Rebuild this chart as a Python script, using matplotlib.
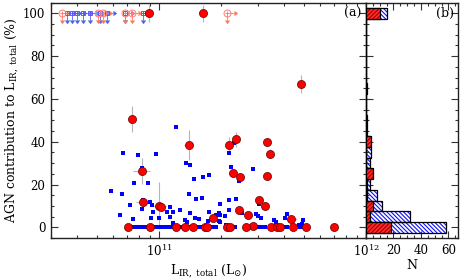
import numpy as np
import matplotlib
matplotlib.use("Agg")
import matplotlib.pyplot as plt
from matplotlib.ticker import LogLocator, FixedLocator, MultipleLocator, NullFormatter

plt.rcParams['font.family'] = ['DejaVu Serif']
plt.rcParams['mathtext.fontset'] = 'dejavuserif'
plt.rcParams['hatch.linewidth'] = 0.8

# ---------------- data (L_IR in units of 1e11 Lsun) ----------------
red_L = [0.894, 1.636, 0.740, 4.84, 1.388, 2.187, 2.365, 3.333, 3.42, 0.824,
         2.279, 2.454, 3.333, 0.839, 1.003, 1.023, 3.034, 3.244, 1.814, 2.419,
         2.696, 4.325, 2.838,
         0.705, 0.904, 1.205, 1.330, 1.451, 1.672, 1.700, 2.131, 2.211, 2.615,
         3.458, 3.719, 3.837, 4.446, 5.114, 6.97]
red_agn = [100, 100, 50.7, 67.0, 38.4, 38.3, 41.1, 39.8, 34.4, 26.3,
           25.3, 23.3, 24.0, 11.6, 10.0, 9.3, 12.8, 10.0, 4.3, 7.9,
           5.7, 3.7, 0.7,
           0, 0, 0, 0, 0, 0, 0, 0, 0, 0,
           0, 0, 0, 0, 0, 0]
red_yerr = [4, 4, 6, 4, 7, 4, 3.5, 2, 2, 6,
            2, 2, 2, 2, 11, 1.5, 2, 2, 1.5, 1.5,
            1.5, 1.5, 1.5,
            0.5, 0.5, 0.5, 0.5, 0.5, 0.5, 0.5, 0.5, 0.5, 0.5,
            0.5, 0.5, 0.5, 0.5, 0.5, 0.5]
red_xerr_dex = [0.01, 0.01, 0.01, 0.01, 0.02, 0.01, 0.01, 0.01, 0.01, 0.04,
                0.01, 0.01, 0.01, 0.035, 0.03, 0.01, 0.01, 0.01, 0.02, 0.01,
                0.01, 0.03, 0.01,
                0.01, 0.01, 0.01, 0.01, 0.01, 0.01, 0.01, 0.01, 0.01, 0.01,
                0.01, 0.01, 0.01, 0.01, 0.01, 0.01]

blue_L = [0.666, 0.793, 0.970, 0.583, 0.663, 0.759, 0.880, 0.647, 0.723, 0.750,
          0.824, 0.839, 0.904, 0.932, 0.915, 0.994, 0.922, 0.830, 1.097, 1.131,
          1.131, 1.173, 1.264, 1.166, 1.327, 1.363, 1.414, 1.484, 1.551, 1.749,
          1.716, 1.941, 1.956, 1.398, 1.507, 1.612, 1.467, 1.623, 1.749, 1.352,
          1.414, 1.978, 2.187, 2.312, 2.229, 2.850, 2.427, 2.170, 2.365, 2.187,
          1.891, 1.978, 2.091, 1.978, 2.520, 2.924, 3.014, 3.093, 3.034, 3.588,
          3.686, 4.045, 4.169, 4.962, 4.929, 4.745, 2.115, 1.209,
          0.740, 0.765, 0.791, 0.818, 0.846, 0.875, 0.925, 0.956, 0.989, 1.034,
          1.069, 1.106, 1.144, 1.264, 1.352, 1.398, 1.512, 1.564, 1.636, 1.768,
          1.828, 1.891, 2.338, 3.024, 3.127, 3.234, 3.536, 3.999, 4.136, 4.782,
          4.946]
blue_agn = [34.9, 33.6, 34.1, 17.0, 15.8, 20.6, 20.5, 5.8, 10.6, 3.9,
            8.5, 12.8, 11.9, 7.1, 4.2, 4.2, 10.4, 27.7, 7.3, 9.3,
            4.7, 7.3, 8.0, 2.0, 3.5, 2.6, 6.7, 4.3, 3.9, 7.0,
            3.1, 6.7, 2.8, 15.8, 13.2, 13.5, 22.8, 23.7, 24.5, 29.9,
            29.3, 10.8, 34.6, 39.5, 28.2, 27.1, 21.7, 12.7, 13.2, 8.0,
            5.7, 5.7, 5.1, 2.6, 6.7, 6.2, 5.4, 4.5, 10.7, 3.3,
            2.3, 4.2, 6.2, 3.4, 1.4, 1.1, 1.1, 46.8,
            0, 0, 0, 0, 0, 0, 0, 0, 0, 0,
            0, 0, 0, 0, 0, 0, 0, 0, 0, 0,
            0, 0, 0, 0, 0, 0, 0, 0, 0, 0,
            0]

pink_lim_L = [0.338, 0.506, 0.535, 0.684, 0.739, 2.139]
blue_lim_L = [0.357, 0.378, 0.400, 0.428, 0.462, 0.517, 0.559, 0.684, 0.836]
lim_agn = 100

hist_bins = [0, 5, 10, 15, 20, 25, 30, 35, 40, 45, 50, 55, 60, 65, 70, 75, 80, 85, 90, 95, 100]
hist_all = [58, 32, 12, 8, 3, 4, 3, 4, 3, 1, 0, 0, 0, 0, 0, 0, 0, 0, 0, 0, 15]
hist_red = [18, 3, 5, 1, 1, 5, 0, 0, 4, 0, 1, 0, 0, 1, 0, 0, 0, 0, 0, 0, 10]

# ---------------- figure ----------------
fig = plt.figure(figsize=(4.63, 2.78), dpi=100)
axa = fig.add_axes([51/463, 1-238/278, (366-51)/463, (238-2.7)/278])
axb = fig.add_axes([366/463, 1-238/278, (458-366)/463, (238-2.7)/278])

scale = 1e11
rL = np.array(red_L) * scale
bL = np.array(blue_L) * scale
rdex = np.array(red_xerr_dex)
xerr = [rL - rL * 10**(-rdex), rL * 10**rdex - rL]

axa.errorbar(rL, red_agn, yerr=red_yerr, xerr=xerr, fmt='none',
             ecolor='#b5b5b5', elinewidth=0.8, capsize=0, zorder=1)
axa.scatter(bL, blue_agn, marker='s', s=9, color='#0000ff', linewidths=0, zorder=2)
axa.scatter(rL, red_agn, marker='o', s=34, facecolor='#ff0000',
            edgecolor='#600000', linewidths=0.5, zorder=3)

pL = np.array(pink_lim_L) * scale
blL = np.array(blue_lim_L) * scale
for arr, col, mk, ms in [(blL, '#5a5aff', 's', 3.5), (pL, '#ff7a7a', 'o', 5)]:
    axa.errorbar(arr, [lim_agn]*len(arr), yerr=3, xerr=arr*(10**0.03 - 1),
                 uplims=True, xlolims=True, fmt=mk, mfc='none', mec=col,
                 ms=ms, mew=0.7, ecolor=col, elinewidth=0.6, capsize=1.2, zorder=2)

axa.set_xscale('log')
axa.set_xlim(3e10, 1e12)
axa.set_ylim(-5, 105)
axa.xaxis.set_major_locator(FixedLocator([1e11, 1e12]))
axa.set_xticklabels(['$10^{11}$', '$10^{12}$'])
axa.xaxis.set_minor_locator(LogLocator(base=10, subs=np.arange(2, 10)))
axa.xaxis.set_minor_formatter(NullFormatter())
axa.yaxis.set_major_locator(MultipleLocator(20))
axa.yaxis.set_minor_locator(MultipleLocator(5))
axa.set_xlabel(r'L$_{\rm IR,\ total}$ (L$_{\odot}$)', fontsize=9, labelpad=2)
axa.set_ylabel(r'AGN contribution to L$_{\rm IR,\ total}$ (%)', fontsize=9, labelpad=2)
axa.text(0.985, 0.955, '(a)', transform=axa.transAxes, ha='right', va='center', fontsize=9)

# histogram
axb.barh(hist_bins, hist_all, height=5, color='white', edgecolor='#1010ff',
         hatch='\\\\\\\\\\\\\\\\', linewidth=0.5, zorder=1)
axb.barh(hist_bins, hist_all, height=5, color='none', edgecolor='black',
         linewidth=0.9, zorder=2)
axb.barh(hist_bins, hist_red, height=5, color='#ff2a2a', edgecolor='#a00000',
         hatch='////////', linewidth=0.5, zorder=3)
axb.barh(hist_bins, hist_red, height=5, color='none', edgecolor='black',
         linewidth=0.9, zorder=4)
axb.set_xlim(0, 67)
axb.set_ylim(-5, 105)
axb.xaxis.set_major_locator(FixedLocator([0, 20, 40, 60]))
axb.set_xticklabels(['', '20', '40', '60'])
axb.xaxis.set_minor_locator(MultipleLocator(5))
axb.yaxis.set_major_locator(MultipleLocator(20))
axb.yaxis.set_minor_locator(MultipleLocator(5))
axb.set_yticklabels([])
axb.set_xlabel('N', fontsize=9, labelpad=2)
axb.text(0.96, 0.955, '(b)', transform=axb.transAxes, ha='right', va='center', fontsize=9)

for ax in (axa, axb):
    ax.tick_params(which='both', direction='in', top=True, right=True, labelsize=8.5,
                   color='#333333', width=0.8)
    ax.tick_params(which='major', length=5, pad=4)
    ax.tick_params(which='minor', length=2.5)
    for sp in ax.spines.values():
        sp.set_linewidth(1.0)
        sp.set_color('#222222')

fig.savefig('out.png', dpi=100)
